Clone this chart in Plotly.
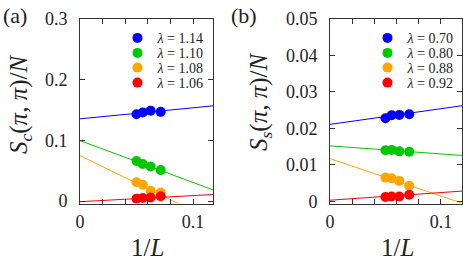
import plotly.graph_objects as go

# ---------------- data ----------------
inv_L = [1/20, 1/18, 1/16, 1/14]

labels_a = ["1.14", "1.10", "1.08", "1.06"]
sc_blue = [0.143, 0.146, 0.149, 0.147]
sc_green = [0.066, 0.061, 0.057, 0.051]
sc_orange = [0.031, 0.027, 0.017, 0.014]
sc_red = [0.004, 0.005, 0.006, 0.008]
fit_a_intercept = [0.1355, 0.0997, 0.075, -0.001]
fit_a_slope = [0.182, -0.69, -0.91, 0.10]

labels_b = ["0.70", "0.80", "0.88", "0.92"]
ss_blue = [0.0228, 0.0236, 0.0237, 0.0239]
ss_green = [0.0140, 0.0141, 0.0137, 0.0136]
ss_orange = [0.0065, 0.0063, 0.0056, 0.0043]
ss_red = [0.0012, 0.0013, 0.0013, 0.0018]
fit_b_intercept = [0.0211, 0.0152, 0.0117, 0.0003]
fit_b_slope = [0.043, -0.022, -0.1025, 0.021]

fit_x = [0.0, 0.125]

colors = ["#0000ff", "#00c800", "#ffa500", "#ff0000"]

FONT = "Liberation Serif, Times New Roman, serif"
W, H = 463, 261

fig = go.Figure()

legend_rows_px = [38.3, 53.3, 68.0, 83.0]
legend_left_px = {"a": 117.5, "b": 367.5}

panels = [
    ("a", "x", "y", [sc_blue, sc_green, sc_orange, sc_red], labels_a, fit_a_intercept, fit_a_slope, 0),
    ("b", "x2", "y2", [ss_blue, ss_green, ss_orange, ss_red], labels_b, fit_b_intercept, fit_b_slope, 4),
]

legend_layouts = {}
for name, xa, ya, series, labs, icpt, slp, off in panels:
    for i in range(4):
        fig.add_trace(go.Scatter(
            x=fit_x, y=[icpt[i] + slp[i] * xv for xv in fit_x],
            mode="lines", line=dict(color=colors[i], width=1),
            xaxis=xa, yaxis=ya, showlegend=False, hoverinfo="skip"))
    for i in range(4):
        lg = "legend" if off + i == 0 else f"legend{off + i + 1}"
        fig.add_trace(go.Scatter(
            x=inv_L, y=series[i], mode="markers",
            marker=dict(color=colors[i], size=10, line=dict(width=0)),
            name=f"<i>λ</i> = {labs[i]}",
            xaxis=xa, yaxis=ya, legend=lg, showlegend=True))
        legend_layouts[lg] = dict(
            x=legend_left_px[name] / W, xanchor="left",
            y=1 - legend_rows_px[i] / H, yanchor="middle",
            bgcolor="rgba(0,0,0,0)", borderwidth=0,
            font=dict(family=FONT, size=14, color="#222"),
            itemsizing="trace")

axis_common = dict(
    showline=True, linecolor="#333", linewidth=1, mirror="ticks",
    ticks="inside", ticklen=5, tickcolor="#333", tickwidth=1,
    showgrid=False, zeroline=False, automargin=False,
    tickfont=dict(family=FONT, size=18, color="#222"),
)
xminor = dict(dtick=0.02, tick0=0, ticks="inside", ticklen=5, tickcolor="#333", showgrid=False)

fig.update_layout(
    width=W, height=H,
    margin=dict(l=0, r=0, t=0, b=0),
    paper_bgcolor="white", plot_bgcolor="white",
    font=dict(family=FONT, color="#222"),
    xaxis=dict(domain=[80 / W, 213 / W], range=[0, 0.1177], dtick=0.1, tick0=0,
               minor=xminor, anchor="y", ticklabelstandoff=2, **axis_common),
    yaxis=dict(domain=[1 - 203.5 / H, 1 - 19 / H], range=[-0.004, 0.3], dtick=0.1, tick0=0,
               anchor="x", ticklabelstandoff=8, **axis_common),
    xaxis2=dict(domain=[330 / W, 462 / W], range=[0, 0.119], dtick=0.1, tick0=0,
                minor=xminor, anchor="y2", ticklabelstandoff=2, **axis_common),
    yaxis2=dict(domain=[1 - 203.5 / H, 1 - 19 / H], range=[-0.0006, 0.05], dtick=0.01, tick0=0,
                anchor="x2", ticklabelstandoff=8, **axis_common),
    **legend_layouts,
)

annotations = [
    dict(text="(a)", x=15 / W, y=1 - 15 / H, size=22),
    dict(text="(b)", x=244 / W, y=1 - 15 / H, size=22),
    dict(text="1/<i>L</i>", x=147 / W, y=1 - 247 / H, size=25),
    dict(text="1/<i>L</i>", x=397 / W, y=1 - 247 / H, size=25),
    dict(text="<i>S</i><sub><i>c</i></sub>(<i>π</i>, <i>π</i>)/<i>N</i>", x=20 / W, y=1 - 105 / H,
         textangle=-90, size=25),
    dict(text="<i>S</i><sub><i>s</i></sub>(<i>π</i>, <i>π</i>)/<i>N</i>", x=261 / W, y=1 - 102 / H,
         textangle=-90, size=25),
]
for a in annotations:
    sz = a.pop("size")
    a.update(xref="paper", yref="paper", showarrow=False, xanchor="center", yanchor="middle",
             font=dict(family=FONT, size=sz, color="#222"))
fig.update_layout(annotations=annotations)

fig.write_html("out.html", config={"displayModeBar": False},
               post_script="document.body.style.margin='0px';")
